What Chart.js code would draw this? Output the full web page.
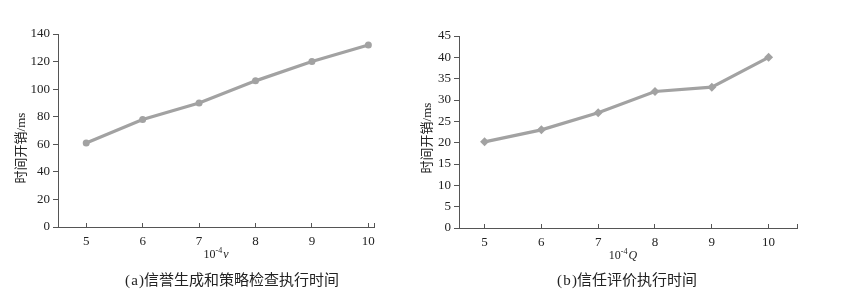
<!DOCTYPE html>
<html>
<head>
<meta charset="utf-8">
<script src="https://cdn.jsdelivr.net/npm/chart.js@4/dist/chart.umd.min.js"></script>
<style>
  html, body { margin: 0; padding: 0; background: #fff; }
  body { width: 859px; height: 299px; position: relative; overflow: hidden; }
  .box { position: absolute; top: 0; height: 299px; }
  .cap { position: absolute; font-family: "Liberation Serif", "Noto Sans CJK SC", serif; font-size: 15px; color: #222; white-space: nowrap; transform: translate(-50%, -50%); }
</style>
</head>
<body>
<div class="box" style="left:0;width:410px"><canvas id="ca" width="410" height="299"></canvas></div>
<div class="box" style="left:410px;width:449px"><canvas id="cb" width="449" height="299"></canvas></div>
<div class="cap" style="left:232px;top:278px">(&#8202;a&#8202;)信誉生成和策略检查执行时间</div>
<div class="cap" style="left:627px;top:278px">(&#8202;b&#8202;)信任评价执行时间</div>
<script>
// ---- data ----
const categoriesA = [5, 6, 7, 8, 9, 10];
const timeA = [61, 78, 90, 106, 120, 132];
const categoriesB = [5, 6, 7, 8, 9, 10];
const timeB = [20.2, 23, 27, 32, 33, 40];
const yTitle = '时间开销/ms';
const xVarA = 'v';
const xVarB = 'Q';

const FONT = '"Liberation Serif", "Noto Sans CJK SC", serif';
const AXIS = '#555';
const LINE = '#a2a2a2';

// draws axis titles as text (y title rotated, x title "10^-4 var" with italic variable)
const titlesPlugin = {
  id: 'titles',
  afterDraw(chart, args, o) {
    const ctx = chart.ctx;
    const ca = chart.chartArea;
    ctx.save();
    ctx.fillStyle = '#222';
    ctx.translate(o.yx, o.yy);
    ctx.rotate(-Math.PI / 2);
    ctx.textAlign = 'center';
    ctx.textBaseline = 'middle';
    ctx.font = '13px ' + FONT;
    ctx.fillText(yTitle, 0, 0);
    ctx.restore();
    ctx.save();
    ctx.fillStyle = '#222';
    ctx.textBaseline = 'middle';
    const cx = (ca.left + ca.right) / 2 + o.xdx;
    const y = ca.bottom + o.xdy;
    const f1 = '12px ' + FONT, f2 = '8px ' + FONT, f3 = 'italic 12px ' + FONT;
    ctx.font = f1; const w1 = ctx.measureText('10').width;
    ctx.font = f2; const w2 = ctx.measureText('-4').width;
    ctx.font = f3; const w3 = ctx.measureText(o.v).width;
    let x = cx - (w1 + w2 + w3 + 1) / 2;
    ctx.textAlign = 'left';
    ctx.font = f1; ctx.fillText('10', x, y); x += w1;
    ctx.font = f2; ctx.fillText('-4', x, y - 4); x += w2 + 1;
    ctx.font = f3; ctx.fillText(o.v, x, y);
    ctx.restore();
  }
};

function makeChart(id, cats, vals, opt) {
  const data = cats.map((c, i) => ({ x: c, y: vals[i] }));
  return new Chart(document.getElementById(id), {
    type: 'line',
    data: { datasets: [{
      data,
      borderColor: LINE,
      backgroundColor: LINE,
      borderWidth: 3.2,
      pointStyle: opt.point,
      pointRadius: opt.pointRadius,
      pointBorderWidth: 0,
      tension: 0
    }]},
    plugins: [titlesPlugin],
    options: {
      responsive: false,
      animation: false,
      devicePixelRatio: 1,
      plugins: { legend: { display: false }, tooltip: { enabled: false },
        titles: opt.titles },
      layout: { padding: { left: 0, top: opt.top, right: opt.right, bottom: opt.bottom } },
      scales: {
        x: {
          type: 'linear',
          min: opt.xmin, max: opt.xmax,
          afterBuildTicks: s => { s.ticks = cats.map(v => ({ value: v })).concat([{ value: opt.xmax }]); },
          afterFit: s => { s.height = opt.xh; },
          ticks: {
            font: { family: FONT, size: 13 }, color: '#222', padding: 11,
            callback: v => cats.includes(v) ? String(v) : ''
          },
          grid: { drawOnChartArea: false, drawTicks: true, tickLength: -4, color: AXIS, lineWidth: 1 },
          border: { color: AXIS, width: 1 }
        },
        y: {
          min: 0, max: opt.ymax,
          ticks: { stepSize: opt.step, font: { family: FONT, size: 13 }, color: '#222', padding: 3 },
          afterFit: s => { s.width = opt.yw; },
          grid: { drawOnChartArea: false, drawTicks: true, tickLength: 5, color: AXIS, lineWidth: 1 },
          border: { color: AXIS, width: 1 }
        }
      }
    }
  });
}

makeChart('ca', categoriesA, timeA, {
  point: 'circle', pointRadius: 3.5,
  xmin: 4.5, xmax: 10.1, ymax: 140, step: 20,
  top: 34, right: 36, bottom: 40, xh: 32, yw: 58,
  titles: { yx: 22, yy: 148, xdx: 0, xdy: 28, v: xVarA }
});
makeChart('cb', categoriesB, timeB, {
  point: 'rectRot', pointRadius: 4.5,
  xmin: 4.55, xmax: 10.5, ymax: 45, step: 5,
  top: 36, right: 62, bottom: 40, xh: 31, yw: 49,
  titles: { yx: 18, yy: 138, xdx: -5, xdy: 28, v: xVarB }
});
</script>
</body>
</html>
